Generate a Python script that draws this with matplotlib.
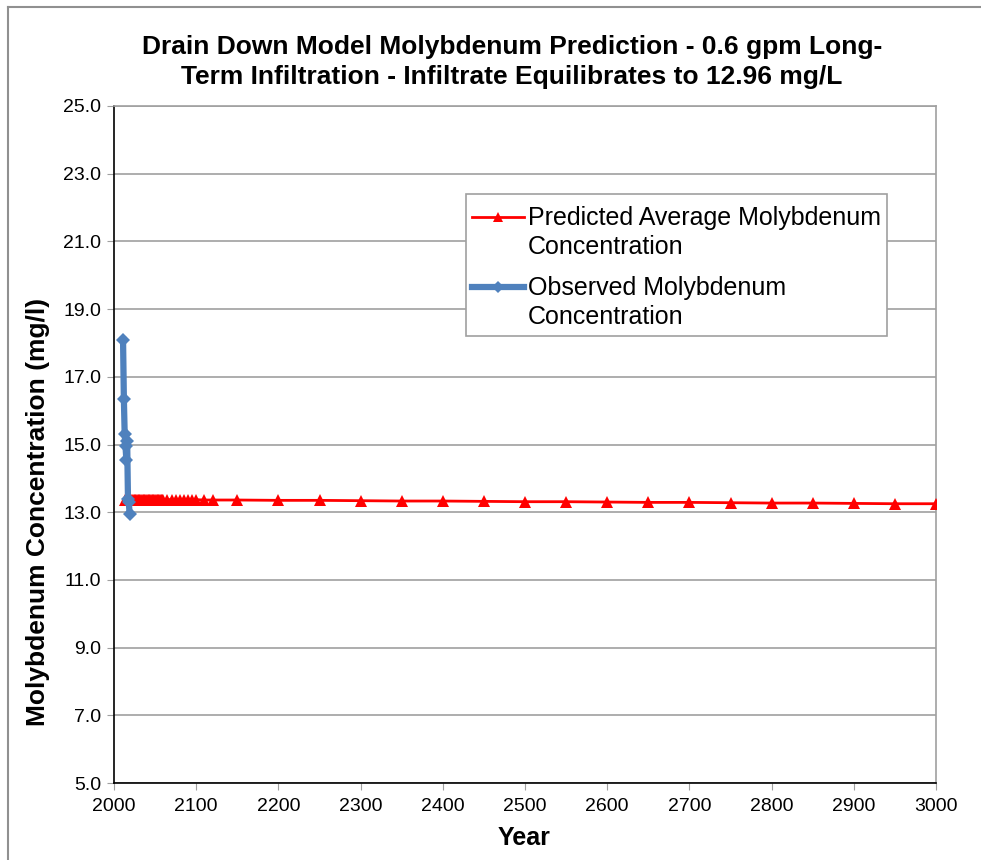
import matplotlib
matplotlib.use('Agg')
import matplotlib.pyplot as plt
from matplotlib.lines import Line2D
from matplotlib.patches import Rectangle

plt.rcParams['font.family'] = ['Liberation Sans', 'DejaVu Sans']

# Predicted average concentration (red)
pred_years = [2013, 2014, 2015, 2016, 2017, 2018, 2019, 2020, 2021, 2022,
              2023, 2024, 2025, 2026, 2027, 2028, 2029, 2030, 2031, 2032,
              2033, 2034, 2035, 2036, 2037, 2038, 2039, 2040, 2041, 2042,
              2043, 2044, 2045, 2046, 2047, 2048, 2049, 2050, 2051, 2052,
              2053, 2054, 2055, 2056, 2057, 2058, 2059, 2060,
              2065, 2070, 2075, 2080, 2085, 2090, 2095, 2100,
              2110, 2120, 2150, 2200, 2250, 2300, 2350, 2400, 2450, 2500,
              2550, 2600, 2650, 2700, 2750, 2800, 2850, 2900, 2950, 3000]
pred_conc = [13.37, 13.37, 13.37, 13.37, 13.37, 13.37, 13.37, 13.37, 13.37, 13.37,
             13.37, 13.37, 13.37, 13.37, 13.37, 13.37, 13.37, 13.37, 13.37, 13.37,
             13.37, 13.37, 13.37, 13.37, 13.37, 13.37, 13.37, 13.37, 13.37, 13.37,
             13.37, 13.37, 13.37, 13.37, 13.37, 13.37, 13.37, 13.37, 13.37, 13.37,
             13.37, 13.37, 13.37, 13.37, 13.37, 13.37, 13.37, 13.37,
             13.37, 13.37, 13.37, 13.37, 13.37, 13.37, 13.37, 13.37,
             13.36, 13.36, 13.36, 13.35, 13.35, 13.34, 13.33, 13.33, 13.32, 13.31,
             13.31, 13.30, 13.29, 13.29, 13.28, 13.27, 13.27, 13.26, 13.25, 13.25]

# Observed concentration (blue)
obs_years = [2011, 2012, 2013, 2014, 2015, 2016, 2017, 2018, 2019]
obs_conc = [18.1, 16.35, 15.3, 14.95, 14.55, 15.1, 13.4, 13.3, 12.95]

labels = ['Predicted Average Molybdenum\nConcentration',
          'Observed Molybdenum\nConcentration']

W, H = 981, 860


def px(x, y):
    # pixel position -> figure fraction
    return x / W, 1 - y / H


fig = plt.figure(figsize=(9.81, 8.6), dpi=100)
ax = fig.add_axes([114 / W, 1 - 783 / H, (936 - 114) / W, (783 - 106) / H])

red_style = dict(color='#ff0000', linewidth=2, marker='^', markersize=8, markeredgewidth=0)
blue_style = dict(color='#4f81bd', linewidth=4.5, marker='D', markersize=7, markeredgewidth=0)

ax.plot(pred_years, pred_conc, zorder=3, **red_style)
ax.plot(obs_years, obs_conc, zorder=4, **blue_style)

ax.set_xlim(2000, 3000)
ax.set_ylim(5.0, 25.0)
ax.set_xticks(range(2000, 3001, 100))
ax.set_yticks([5.0 + 2 * i for i in range(11)])
ax.set_yticklabels([f'{5.0 + 2 * i:.1f}' for i in range(11)])
ax.grid(axis='y', color='#a0a0a0', linewidth=1.2)
ax.set_axisbelow(True)
ax.tick_params(axis='both', labelsize=14, direction='out', length=5,
               color='#a0a0a0', pad=4)
ax.tick_params(axis='x', pad=6)

for side in ['left', 'bottom']:
    ax.spines[side].set_color('black')
    ax.spines[side].set_linewidth(1.2)
for side in ['top', 'right']:
    ax.spines[side].set_color('#a0a0a0')
    ax.spines[side].set_linewidth(1.2)

# axis titles
fig.text(*px(524, 838), 'Year', ha='center', va='center', fontsize=18, fontweight='bold')
fig.text(*px(38, 512), 'Molybdenum Concentration (mg/l)', ha='center', va='center',
         rotation=90, fontsize=19, fontweight='bold')

fig.text(*px(512, 62),
         'Drain Down Model Molybdenum Prediction - 0.6 gpm Long-\n'
         'Term Infiltration - Infiltrate Equilibrates to 12.96 mg/L',
         ha='center', va='center', fontsize=19, fontweight='bold', linespacing=1.33)

# legend, Excel style: marker on the first line of each entry
x0, y0 = px(466, 336)
x1, y1 = px(887, 194)
fig.add_artist(Rectangle((x0, y0), x1 - x0, y1 - y0, transform=fig.transFigure,
                         facecolor='white', edgecolor='#a0a0a0', linewidth=1.2, zorder=5))
for (ly, style, label) in [(217, red_style, labels[0]), (287, blue_style, labels[1])]:
    ha, _ = px(472, ly)
    hm, _ = px(498, ly)
    hb, hy = px(524, ly)
    leg_style = dict(style, markersize=style['markersize'] - 1)
    fig.add_artist(Line2D([ha, hm, hb], [hy, hy, hy], transform=fig.transFigure, zorder=6,
                          markevery=[1], **leg_style))
    fig.text(*px(528, ly - 11), label, ha='left', va='top', fontsize=18,
             linespacing=1.25, zorder=6)

# Outer chart border (left and top edges visible)
fig.add_artist(Line2D([8 / W, 8 / W], [0, 1 - 7 / H], color='#909090', linewidth=1.5,
                      transform=fig.transFigure))
fig.add_artist(Line2D([8 / W, 1], [1 - 7 / H, 1 - 7 / H], color='#909090', linewidth=1.5,
                      transform=fig.transFigure))

fig.savefig('out.png', dpi=100)
